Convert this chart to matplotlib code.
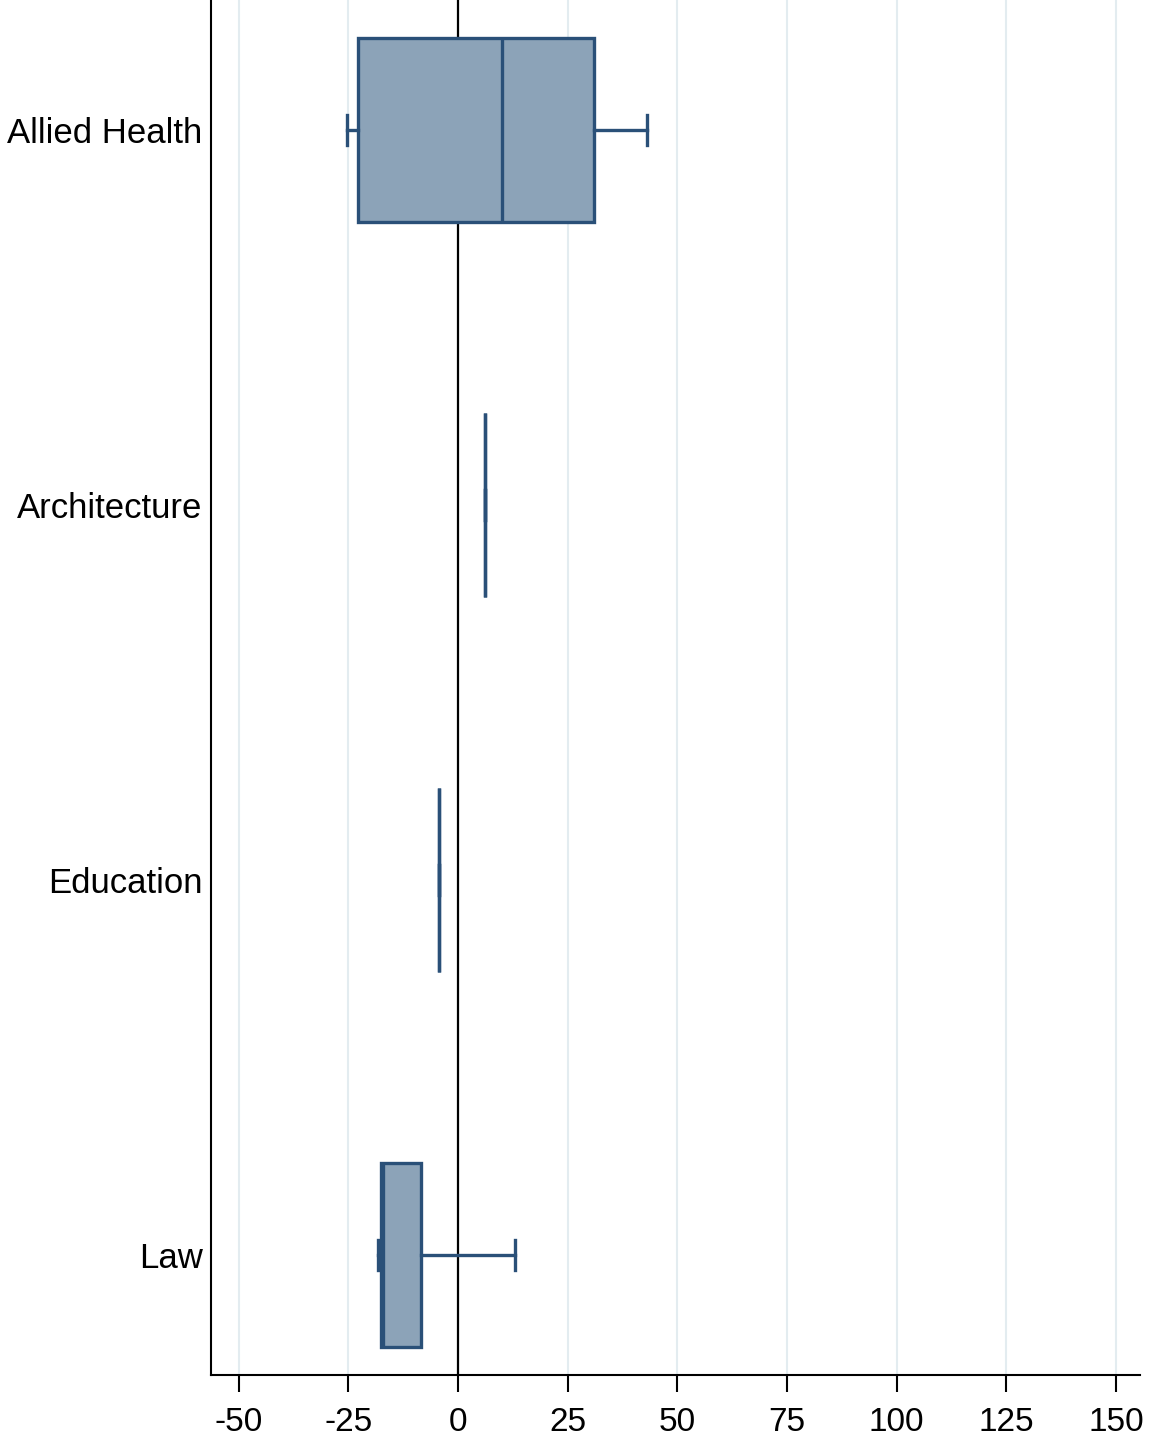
import numpy as np
import matplotlib.pyplot as plt

plt.rcParams['font.family'] = ['Liberation Sans', 'DejaVu Sans']

# Distribution summaries by program (percent change)
programs = ['Allied Health', 'Architecture', 'Education', 'Law']
q1 = [-22.8, 6.2, -4.3, -17.6]
median = [10.0, 6.2, -4.3, -17.1]
q3 = [31.0, 6.2, -4.3, -8.4]
whisker_lo = [-25.3, 6.2, -4.3, -18.2]
whisker_hi = [43.1, 6.2, -4.3, 13.0]
xticks = [-50, -25, 0, 25, 50, 75, 100, 125, 150]

edge = '#2a5078'
fill = '#8ca3b8'

stats = []
for i, name in enumerate(programs):
    stats.append(dict(label=name, q1=q1[i], med=median[i], q3=q3[i],
                      whislo=whisker_lo[i], whishi=whisker_hi[i], fliers=[]))

fig = plt.figure(figsize=(11.51, 14.41), dpi=100)
ax = fig.add_axes([0.1833, 0.0458, 0.8072, 0.9542])

positions = np.arange(1, len(programs) + 1)
ax.bxp(stats, positions=positions, vert=False, widths=0.49, capwidths=0.08,
       patch_artist=True, showfliers=False,
       boxprops=dict(facecolor=fill, edgecolor=edge, linewidth=2.4),
       medianprops=dict(color=edge, linewidth=2.4),
       whiskerprops=dict(color=edge, linewidth=2.4),
       capprops=dict(color=edge, linewidth=2.4), zorder=3)

for t in xticks:
    ax.axvline(t, color='#e3ecf0', linewidth=1.5, zorder=0)
ax.axvline(0, color='black', linewidth=1.6, zorder=2)

ax.set_xlim(-56.3, 155.5)
ax.set_ylim(4.32, 0.653)
ax.set_xticks(xticks)
ax.set_xticklabels([str(t) for t in xticks], fontsize=24)
ax.set_yticks(positions)
ax.set_yticklabels(programs, fontsize=25)

ax.tick_params(axis='x', length=12, width=1.5, pad=11)
ax.tick_params(axis='y', length=0, pad=6)
for s in ['top', 'right']:
    ax.spines[s].set_visible(False)
ax.spines['left'].set_linewidth(1.5)
ax.spines['bottom'].set_linewidth(1.5)

fig.savefig('out.png', dpi=100)
